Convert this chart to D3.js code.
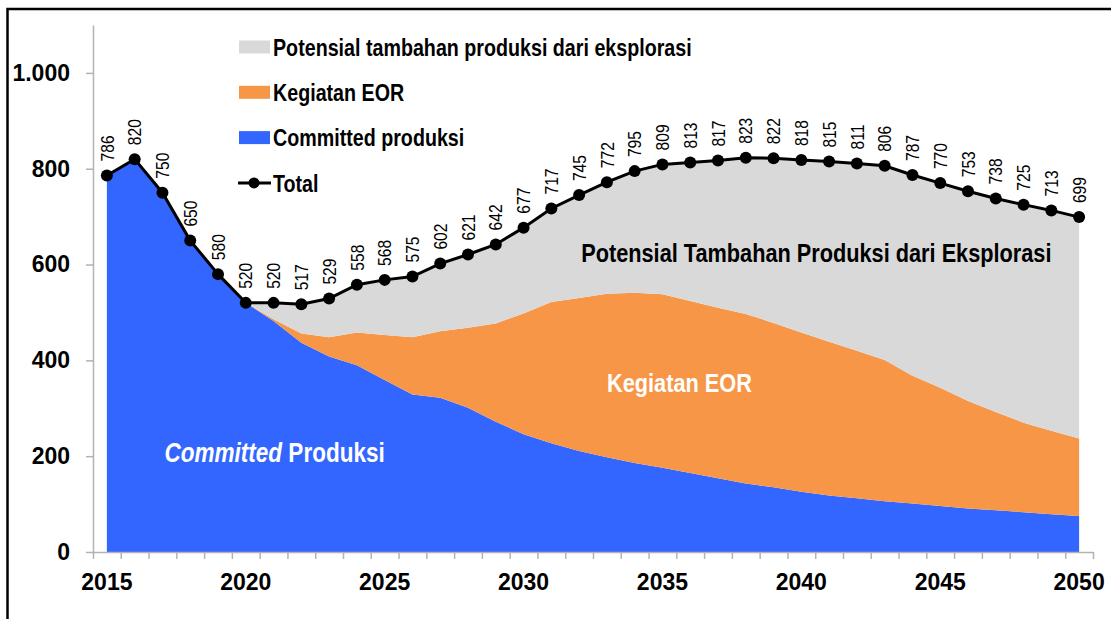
<!DOCTYPE html>
<html>
<head>
<meta charset="utf-8">
<script src="https://cdn.jsdelivr.net/npm/d3@7"></script>
<style>
body{margin:0;background:#fff}
svg{display:block}
text{font-family:"Liberation Sans",Arial,sans-serif}
.axis text{font-weight:700;font-size:23px;fill:#000}
</style>
</head>
<body>
<svg id="chart" width="1111" height="619"></svg>
<script>
var years = [2015,2016,2017,2018,2019,2020,2021,2022,2023,2024,2025,2026,2027,2028,2029,2030,2031,2032,2033,2034,2035,2036,2037,2038,2039,2040,2041,2042,2043,2044,2045,2046,2047,2048,2049,2050]

var committed = [786,820,750,650,580,520,482,437,408,390,359,329,322,301,272,246,227,211,198,186,176,165,154,143,135,126,118,112,106,101,96,91,87,83,79,75]
var eor = [0,0,0,0,0,0,4,19,40,68,94,119,139,167,205,252,295,319,341,355,362,359,356,354,343,332,321,308,295,267,247,224,205,187,174,162]
var potensial = [0,0,0,0,0,0,34,61,81,100,115,127,141,153,165,179,195,215,233,254,271,289,307,326,344,360,376,391,405,419,427,438,446,455,460,462]
var total = [786,820,750,650,580,520,520,517,529,558,568,575,602,621,642,677,717,745,772,795,809,813,817,823,822,818,815,811,806,787,770,753,738,725,713,699]

var yTicks = [0,200,400,600,800,1000]
var xLabels = [2015,2020,2025,2030,2035,2040,2045,2050]

var seriesNames = ['Potensial tambahan produksi dari eksplorasi', 'Kegiatan EOR', 'Committed produksi', 'Total']
var colors = {committed: '#3366ff', eor: '#f79646', potensial: '#d9d9d9'}

var svg = d3.select('#chart')

// condensed look: Arial metrics squeezed like Arial Narrow
var squeeze = 0.82
function narrow(sel, px, py, rot){
  sel.attr('transform', `translate(${px},${py})` + (rot ? ` rotate(${rot})` : '') + ` scale(${squeeze},1)`)
  return sel
}

// frame around the chart
svg.append('path')
  .attr('d', 'M7.5,640V9H1130')
  .attr('fill', 'none')
  .attr('stroke', '#000')
  .attr('stroke-width', 2.5)

var mLeft = 93, mRight = 1093, mTop = 25, mBottom = 552

var x = d3.scaleBand().domain(years).range([mLeft, mRight])
var xi = d3.scaleLinear().domain([0, years.length]).range([mLeft, mRight])
var y = d3.scaleLinear().domain([0, 1100]).range([mBottom, mTop])
var cx = d => x(d) + x.bandwidth() / 2

var rows = years.map((yr, i) => ({year: yr, committed: committed[i], eor: eor[i], potensial: potensial[i], total: total[i]}))
var stack = d3.stack().keys(['committed', 'eor', 'potensial'])(rows)

var area = d3.area()
  .x(d => cx(d.data.year))
  .y0(d => y(d[0]))
  .y1(d => y(d[1]))

svg.append('g').selectAll('path')
  .data(stack)
  .join('path')
  .attr('d', area)
  .attr('fill', d => colors[d.key])

// axes
var fmt = d3.formatLocale({decimal: ',', thousands: '.', grouping: [3], currency: ['', '']}).format(',')

var yAxis = svg.append('g').attr('class', 'axis')
  .attr('transform', `translate(${mLeft},0)`)
  .call(d3.axisLeft(y).tickValues(yTicks).tickFormat(fmt).tickSize(7).tickSizeOuter(0).tickPadding(16))
yAxis.selectAll('path,line').attr('stroke', '#b3b3b3').attr('stroke-width', 1.5)

var xAxis = svg.append('g').attr('class', 'axis')
  .attr('transform', `translate(0,${mBottom})`)
  .call(d3.axisBottom(xi).tickValues(d3.range(years.length + 1)).tickFormat('').tickSize(7).tickSizeOuter(0))
xAxis.selectAll('path,line').attr('stroke', '#b3b3b3').attr('stroke-width', 1.5)

xAxis.selectAll('text.lbl')
  .data(xLabels)
  .join('text')
  .attr('class', 'lbl')
  .attr('x', d => cx(d))
  .attr('y', 38)
  .attr('text-anchor', 'middle')
  .text(d => d)

// total line
var line = d3.line().x(d => cx(d.year)).y(d => y(d.total))

svg.append('path')
  .datum(rows)
  .attr('d', line)
  .attr('fill', 'none')
  .attr('stroke', '#000')
  .attr('stroke-width', 3)

svg.append('g').selectAll('circle')
  .data(rows)
  .join('circle')
  .attr('cx', d => cx(d.year))
  .attr('cy', d => y(d.total))
  .attr('r', 6)
  .attr('fill', '#000')

svg.append('g').selectAll('text')
  .data(rows)
  .join('text')
  .each(function(d){ narrow(d3.select(this), cx(d.year), y(d.total) - 14, -90) })
  .attr('dy', '0.35em')
  .attr('font-size', 19)
  .text(d => d.total)

// legend
var legend = svg.append('g').attr('transform', 'translate(239,47)')
var legendKeys = ['potensial', 'eor', 'committed', 'total']
var item = legend.selectAll('g')
  .data(legendKeys)
  .join('g')
  .attr('transform', (d, i) => `translate(0,${i * 45.3})`)

item.filter(d => d != 'total').append('rect')
  .attr('x', 0).attr('y', -6.5).attr('width', 31).attr('height', 13)
  .attr('fill', d => colors[d])

var tot = item.filter(d => d == 'total')
tot.append('line').attr('x1', -1).attr('x2', 32).attr('stroke', '#000').attr('stroke-width', 3)
tot.append('circle').attr('cx', 15).attr('r', 5.5).attr('fill', '#000')

item.append('text')
  .call(narrow, 34, 0)
  .attr('dy', '0.36em')
  .attr('font-size', 24)
  .attr('font-weight', 700)
  .text((d, i) => seriesNames[i])

// labels inside the areas
svg.append('text')
  .call(narrow, cx(2040) + 15, y(626))
  .attr('dy', '0.36em')
  .attr('text-anchor', 'middle')
  .attr('font-size', 26.5)
  .attr('font-weight', 700)
  .text('Potensial Tambahan Produksi dari Eksplorasi')

svg.append('text')
  .call(narrow, cx(2035) + 17, y(353))
  .attr('dy', '0.36em')
  .attr('text-anchor', 'middle')
  .attr('font-size', 26.5)
  .attr('font-weight', 700)
  .attr('fill', '#fff')
  .text('Kegiatan EOR')

var ct = svg.append('text')
  .call(narrow, cx(2017) + 2, y(209))
  .attr('dy', '0.36em')
  .attr('font-size', 27.5)
  .attr('font-weight', 700)
  .attr('fill', '#fff')
ct.append('tspan').attr('font-style', 'italic').text('Committed')
ct.append('tspan').text(' Produksi')
</script>
</body>
</html>
